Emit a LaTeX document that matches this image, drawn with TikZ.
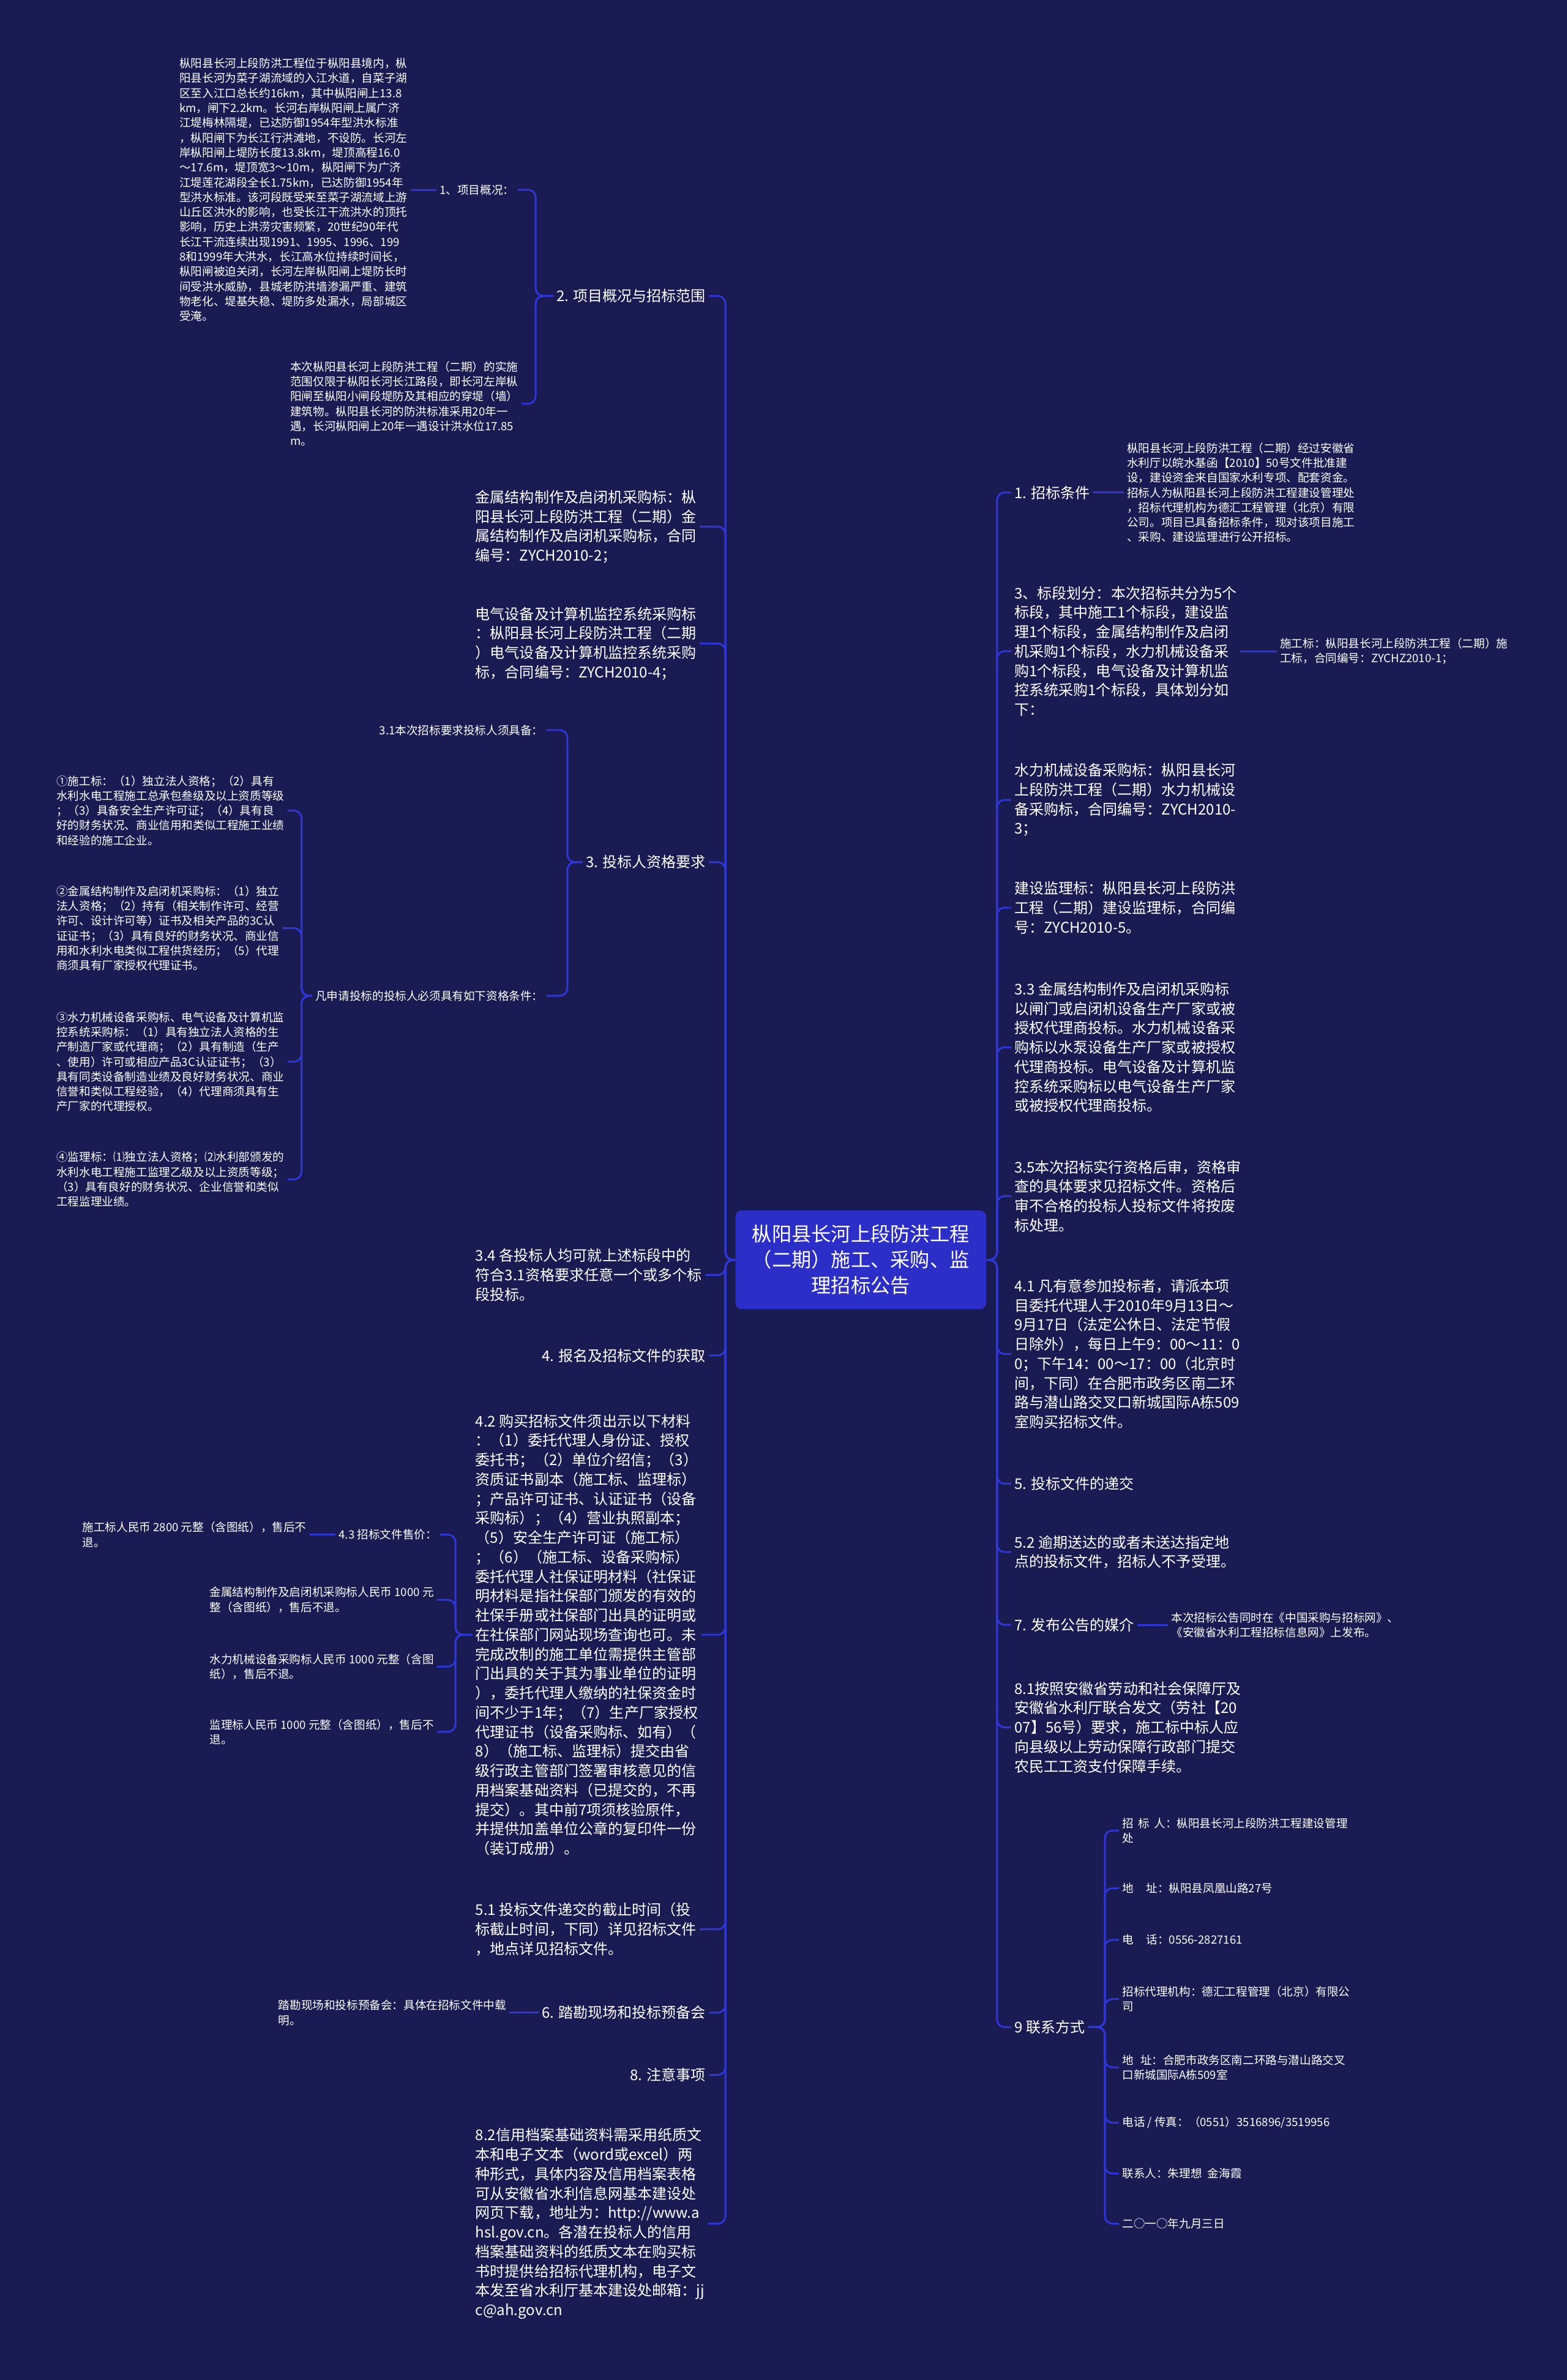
\documentclass[tikz,border=0pt]{standalone}
\usepackage{fontspec}
\setmainfont{Noto Sans CJK SC}
\usepackage{tikz}
\usetikzlibrary{positioning}
\definecolor{bgnavy}{RGB}{27,27,84}
\definecolor{rootblue}{RGB}{44,46,200}
\definecolor{linkblue}{RGB}{45,55,215}

\begin{document}
\begin{tikzpicture}[
  x=1pt, y=-1pt,
  root/.style={
    rectangle, fill=rootblue, rounded corners=4pt,
    minimum width=165pt, minimum height=65pt,
    text=white, align=center, font=\fontsize{13}{17}\selectfont
  },
  topic/.style={text=white, align=left, inner sep=2pt, font=\fontsize{9.7}{12.8}\selectfont},
  note/.style={text=white, align=left, inner sep=2pt, font=\fontsize{7.5}{9.8}\selectfont},
  link/.style={draw=linkblue, line width=1.2pt, rounded corners=5pt}
]
\fill[bgnavy] (0,0) rectangle (1032,1568);
\useasboundingbox (0,0) rectangle (1032,1568);

\node[root] (root) at (567,830) {枞阳县长河上段防洪工程\\（二期）施工、采购、监\\理招标公告};

\node[topic, anchor=east] (l1) at (467,195) {2. 项目概况与招标范围};
\node[topic, anchor=west] (l2) at (311,347) {金属结构制作及启闭机采购标：枞\\阳县长河上段防洪工程（二期）金\\属结构制作及启闭机采购标，合同\\编号：ZYCH2010-2；};
\node[topic, anchor=west] (l3) at (311,424) {电气设备及计算机监控系统采购标\\：枞阳县长河上段防洪工程（二期\\）电气设备及计算机监控系统采购\\标，合同编号：ZYCH2010-4；};
\node[topic, anchor=east] (l4) at (467,568) {3. 投标人资格要求};
\node[topic, anchor=west] (l5) at (311,840) {3.4 各投标人均可就上述标段中的\\符合3.1资格要求任意一个或多个标\\段投标。};
\node[topic, anchor=east] (l6) at (467,893) {4. 报名及招标文件的获取};
\node[topic, anchor=west] (l7) at (311,1077) {4.2 购买招标文件须出示以下材料\\：（1）委托代理人身份证、授权\\委托书；（2）单位介绍信；（3）\\资质证书副本（施工标、监理标）\\；产品许可证书、认证证书（设备\\采购标）；（4）营业执照副本；\\（5）安全生产许可证（施工标）\\；（6）（施工标、设备采购标）\\委托代理人社保证明材料（社保证\\明材料是指社保部门颁发的有效的\\社保手册或社保部门出具的证明或\\在社保部门网站现场查询也可。未\\完成改制的施工单位需提供主管部\\门出具的关于其为事业单位的证明\\），委托代理人缴纳的社保资金时\\间不少于1年；（7）生产厂家授权\\代理证书（设备采购标、如有）（\\8）（施工标、监理标）提交由省\\级行政主管部门签署审核意见的信\\用档案基础资料（已提交的，不再\\提交）。其中前7项须核验原件，\\并提供加盖单位公章的复印件一份\\（装订成册）。};
\node[topic, anchor=west] (l8) at (311,1271) {5.1 投标文件递交的截止时间（投\\标截止时间，下同）详见招标文件\\，地点详见招标文件。};
\node[topic, anchor=east] (l9) at (467,1326) {6. 踏勘现场和投标预备会};
\node[topic, anchor=east] (l10) at (467,1367) {8. 注意事项};
\node[topic, anchor=west] (l11) at (311,1465) {8.2信用档案基础资料需采用纸质文\\本和电子文本（word或excel）两\\种形式，具体内容及信用档案表格\\可从安徽省水利信息网基本建设处\\网页下载，地址为：http://www.a\\hsl.gov.cn。各潜在投标人的信用\\档案基础资料的纸质文本在购买标\\书时提供给招标代理机构，电子文\\本发至省水利厅基本建设处邮箱：jj\\c@ah.gov.cn};

\node[note, anchor=east] (l1a) at (341,125) {1、项目概况：};
\node[note, left=17pt of l1a] (l1a1) {枞阳县长河上段防洪工程位于枞阳县境内，枞\\阳县长河为菜子湖流域的入江水道，自菜子湖\\区至入江口总长约16km，其中枞阳闸上13.8\\km，闸下2.2km。长河右岸枞阳闸上属广济\\江堤梅林隔堤，已达防御1954年型洪水标准\\，枞阳闸下为长江行洪滩地，不设防。长河左\\岸枞阳闸上堤防长度13.8km，堤顶高程16.0\\～17.6m，堤顶宽3～10m，枞阳闸下为广济\\江堤莲花湖段全长1.75km，已达防御1954年\\型洪水标准。该河段既受来至菜子湖流域上游\\山丘区洪水的影响，也受长江干流洪水的顶托\\影响，历史上洪涝灾害频繁，20世纪90年代\\长江干流连续出现1991、1995、1996、199\\8和1999年大洪水，长江高水位持续时间长，\\枞阳闸被迫关闭，长河左岸枞阳闸上堤防长时\\间受洪水威胁，县城老防洪墙渗漏严重、建筑\\物老化、堤基失稳、堤防多处漏水，局部城区\\受淹。};
\node[note, anchor=west] (l1b) at (189,266) {本次枞阳县长河上段防洪工程（二期）的实施\\范围仅限于枞阳长河长江路段，即长河左岸枞\\阳闸至枞阳小闸段堤防及其相应的穿堤（墙）\\建筑物。枞阳县长河的防洪标准采用20年一\\遇，长河枞阳闸上20年一遇设计洪水位17.85\\m。};
\node[note, anchor=east] (l4a) at (360,481) {3.1本次招标要求投标人须具备：};
\node[note, anchor=east] (l4b) at (360,656) {凡申请投标的投标人必须具有如下资格条件：};
\node[note, anchor=west] (l4b1) at (35,534) {①施工标：（1）独立法人资格；（2）具有\\水利水电工程施工总承包叁级及以上资质等级\\；（3）具备安全生产许可证；（4）具有良\\好的财务状况、商业信用和类似工程施工业绩\\和经验的施工企业。};
\node[note, anchor=west] (l4b2) at (35,611.5) {②金属结构制作及启闭机采购标：（1）独立\\法人资格；（2）持有（相关制作许可、经营\\许可、设计许可等）证书及相关产品的3C认\\证证书；（3）具有良好的财务状况、商业信\\用和水利水电类似工程供货经历；（5）代理\\商须具有厂家授权代理证书。};
\node[note, anchor=west] (l4b3) at (35,699.5) {③水力机械设备采购标、电气设备及计算机监\\控系统采购标：（1）具有独立法人资格的生\\产制造厂家或代理商；（2）具有制造（生产\\、使用）许可或相应产品3C认证证书；（3）\\具有同类设备制造业绩及良好财务状况、商业\\信誉和类似工程经验，（4）代理商须具有生\\产厂家的代理授权。};
\node[note, anchor=west] (l4b4) at (35,777) {④监理标：⑴独立法人资格；⑵水利部颁发的\\水利水电工程施工监理乙级及以上资质等级；\\（3）具有良好的财务状况、企业信誉和类似\\工程监理业绩。};
\node[note, anchor=east] (l7a) at (290,1011) {4.3 招标文件售价：};
\node[note, left=17pt of l7a] (l7a1) {施工标人民币 2800 元整（含图纸），售后不\\退。};
\node[note, anchor=west] (l7b) at (136,1054) {金属结构制作及启闭机采购标人民币 1000 元\\整（含图纸），售后不退。};
\node[note, anchor=west] (l7c) at (136,1098) {水力机械设备采购标人民币 1000 元整（含图\\纸），售后不退。};
\node[note, anchor=west] (l7d) at (136,1141) {监理标人民币 1000 元整（含图纸），售后不\\退。};
\node[note, left=19pt of l9] (l9a) {踏勘现场和投标预备会：具体在招标文件中载\\明。};

\node[topic, anchor=west] (r1) at (666,324.5) {1. 招标条件};
\node[note, right=20pt of r1] (r1a) {枞阳县长河上段防洪工程（二期）经过安徽省\\水利厅以皖水基函【2010】50号文件批准建\\设，建设资金来自国家水利专项、配套资金。\\招标人为枞阳县长河上段防洪工程建设管理处\\，招标代理机构为德汇工程管理（北京）有限\\公司。项目已具备招标条件，现对该项目施工\\、采购、建设监理进行公开招标。};
\node[topic, anchor=west] (r2) at (666,429) {3、标段划分：本次招标共分为5个\\标段，其中施工1个标段，建设监\\理1个标段，金属结构制作及启闭\\机采购1个标段，水力机械设备采\\购1个标段，电气设备及计算机监\\控系统采购1个标段，具体划分如\\下：};
\node[note, right=24pt of r2] (r2a) {施工标：枞阳县长河上段防洪工程（二期）施\\工标，合同编号：ZYCHZ2010-1；};
\node[topic, anchor=west] (r3) at (666,527) {水力机械设备采购标：枞阳县长河\\上段防洪工程（二期）水力机械设\\备采购标，合同编号：ZYCH2010-\\3；};
\node[topic, anchor=west] (r4) at (666,598) {建设监理标：枞阳县长河上段防洪\\工程（二期）建设监理标，合同编\\号：ZYCH2010-5。};
\node[topic, anchor=west] (r5) at (666,690) {3.3 金属结构制作及启闭机采购标\\以闸门或启闭机设备生产厂家或被\\授权代理商投标。水力机械设备采\\购标以水泵设备生产厂家或被授权\\代理商投标。电气设备及计算机监\\控系统采购标以电气设备生产厂家\\或被授权代理商投标。};
\node[topic, anchor=west] (r6) at (666,788) {3.5本次招标实行资格后审，资格审\\查的具体要求见招标文件。资格后\\审不合格的投标人投标文件将按废\\标处理。};
\node[topic, anchor=west] (r7) at (666,892) {4.1 凡有意参加投标者，请派本项\\目委托代理人于2010年9月13日～\\9月17日（法定公休日、法定节假\\日除外），每日上午9：00～11：0\\0；下午14：00～17：00（北京时\\间，下同）在合肥市政务区南二环\\路与潜山路交叉口新城国际A栋509\\室购买招标文件。};
\node[topic, anchor=west] (r8) at (666,977.5) {5. 投标文件的递交};
\node[topic, anchor=west] (r9) at (666,1022.5) {5.2 逾期送达的或者未送达指定地\\点的投标文件，招标人不予受理。};
\node[topic, anchor=west] (r10) at (666,1070.5) {7. 发布公告的媒介};
\node[note, right=20pt of r10] (r10a) {本次招标公告同时在《中国采购与招标网》、\\《安徽省水利工程招标信息网》上发布。};
\node[topic, anchor=west] (r11) at (666,1138) {8.1按照安徽省劳动和社会保障厅及\\安徽省水利厅联合发文（劳社【20\\07】56号）要求，施工标中标人应\\向县级以上劳动保障行政部门提交\\农民工工资支付保障手续。};
\node[topic, anchor=west] (r12) at (666,1335.5) {9 联系方式};
\node[note, anchor=west] (r12a) at (737,1206) {招\hspace{0.4em}标\hspace{0.4em}人：枞阳县长河上段防洪工程建设管理\\处};
\node[note, anchor=west] (r12b) at (737,1244) {地\hspace{1.1em}址：枞阳县凤凰山路27号};
\node[note, anchor=west] (r12c) at (737,1278) {电\hspace{1.1em}话：0556-2827161};
\node[note, anchor=west] (r12d) at (737,1317) {招标代理机构：德汇工程管理（北京）有限公\\司};
\node[note, anchor=west] (r12e) at (737,1362) {地\hspace{0.6em}址：合肥市政务区南二环路与潜山路交叉\\口新城国际A栋509室};
\node[note, anchor=west] (r12f) at (737,1398.5) {电话 / 传真：（0551）3516896/3519956};
\node[note, anchor=west] (r12g) at (737,1432) {联系人：朱理想\hspace{0.5em}金海霞};
\node[note, anchor=west] (r12h) at (737,1465) {二○一○年九月三日};

\draw[link] (root.west) -- ++(-6.5,0) |- (l1.east);
\draw[link] (root.west) -- ++(-6.5,0) |- (l2.east);
\draw[link] (root.west) -- ++(-6.5,0) |- (l3.east);
\draw[link] (root.west) -- ++(-6.5,0) |- (l4.east);
\draw[link] (root.west) -- ++(-6.5,0) |- (l5.east);
\draw[link] (root.west) -- ++(-6.5,0) |- (l6.east);
\draw[link] (root.west) -- ++(-6.5,0) |- (l7.east);
\draw[link] (root.west) -- ++(-6.5,0) |- (l8.east);
\draw[link] (root.west) -- ++(-6.5,0) |- (l9.east);
\draw[link] (root.west) -- ++(-6.5,0) |- (l10.east);
\draw[link] (root.west) -- ++(-6.5,0) |- (l11.east);

\draw[link] (root.east) -- ++(7,0) |- (r1.west);
\draw[link] (root.east) -- ++(7,0) |- (r2.west);
\draw[link] (root.east) -- ++(7,0) |- (r3.west);
\draw[link] (root.east) -- ++(7,0) |- (r4.west);
\draw[link] (root.east) -- ++(7,0) |- (r5.west);
\draw[link] (root.east) -- ++(7,0) |- (r6.west);
\draw[link] (root.east) -- ++(7,0) |- (r7.west);
\draw[link] (root.east) -- ++(7,0) |- (r8.west);
\draw[link] (root.east) -- ++(7,0) |- (r9.west);
\draw[link] (root.east) -- ++(7,0) |- (r10.west);
\draw[link] (root.east) -- ++(7,0) |- (r11.west);
\draw[link] (root.east) -- ++(7,0) |- (r12.west);

\draw[link] (l1.west) -- ++(-11.5,0) |- (l1a.east);
\draw[link] (l1.west) -- ++(-11.5,0) |- (l1b.east);
\draw[link] (l1a.west) -- (l1a1.east);
\draw[link] (l4.west) -- ++(-10,0) |- (l4a.east);
\draw[link] (l4.west) -- ++(-10,0) |- (l4b.east);
\draw[link] (l4b.west) -- ++(-7,0) |- (l4b1.east);
\draw[link] (l4b.west) -- ++(-7,0) |- (l4b2.east);
\draw[link] (l4b.west) -- ++(-7,0) |- (l4b3.east);
\draw[link] (l4b.west) -- ++(-7,0) |- (l4b4.east);
\draw[link] (l7.west) -- ++(-11,0) |- (l7a.east);
\draw[link] (l7.west) -- ++(-11,0) |- (l7b.east);
\draw[link] (l7.west) -- ++(-11,0) |- (l7c.east);
\draw[link] (l7.west) -- ++(-11,0) |- (l7d.east);
\draw[link] (l7a.west) -- (l7a1.east);
\draw[link] (l9.west) -- (l9a.east);

\draw[link] (r1.east) -- (r1a.west);
\draw[link] (r2.east) -- (r2a.west);
\draw[link] (r10.east) -- (r10a.west);
\draw[link] (r12.east) -- ++(11,0) |- (r12a.west);
\draw[link] (r12.east) -- ++(11,0) |- (r12b.west);
\draw[link] (r12.east) -- ++(11,0) |- (r12c.west);
\draw[link] (r12.east) -- ++(11,0) |- (r12d.west);
\draw[link] (r12.east) -- ++(11,0) |- (r12e.west);
\draw[link] (r12.east) -- ++(11,0) |- (r12f.west);
\draw[link] (r12.east) -- ++(11,0) |- (r12g.west);
\draw[link] (r12.east) -- ++(11,0) |- (r12h.west);

\end{tikzpicture}
\end{document}
